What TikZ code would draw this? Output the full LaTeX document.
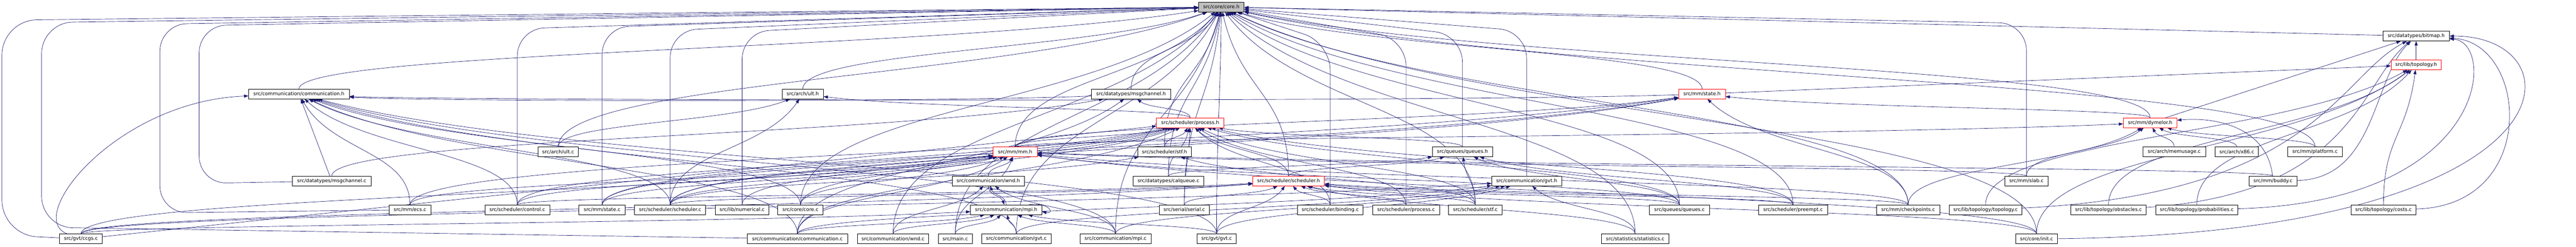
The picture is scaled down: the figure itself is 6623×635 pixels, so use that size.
\documentclass[tikz,border=0pt]{standalone}
\usepackage{fontspec}
\setmainfont{DejaVu Sans}
\usetikzlibrary{arrows.meta,calc}
\definecolor{edgeblue}{RGB}{25,25,112}
\definecolor{coregray}{RGB}{191,191,191}
\tikzset{
  fnode/.style={draw=black, fill=white, line width=1pt, minimum height=25pt, inner sep=0pt,
    font=\fontsize{12.6}{15}\selectfont, anchor=center},
  rnode/.style={fnode, draw=red},
  gnode/.style={fnode, fill=coregray},
  edge/.style={draw=edgeblue, line width=0.9pt, -{Triangle[length=11pt,width=8pt]}},
}
\newcommand\edgeC[2]{\draw[edge] let \p1=(#1), \p2=(#2) in (#1) .. controls (\x1,{0.5*(\y1+\y2)}) and ({0.7*\x2+0.3*\x1},{0.5*(\y1+\y2)}) .. (#2);}
\newcommand\edgeS[2]{\draw[edge] (#1) -- (#2);}
\newcommand\edgeLP[3]{\draw[edge,rounded corners=70pt] (#1) -- (#1 |- 0,#3) -- (#2);}
\begin{document}
\begin{tikzpicture}[x=1pt,y=-1pt]
\useasboundingbox (0,0) rectangle (6623,635);
\fill[white] (0,0) rectangle (6623,635);
% ---------------- nodes (positions) ----------------
\path
 node[gnode, minimum width=117pt] (core) at (3140,18) {src/core/core.h}
 node[fnode, minimum width=171pt] (bitmap) at (6212,93) {src/datatypes/bitmap.h}
 node[rnode, minimum width=129pt] (topo) at (6212,167) {src/lib/topology.h}
 node[fnode, minimum width=259pt] (commh) at (768.5,242) {src/communication/communication.h}
 node[fnode, minimum width=106pt] (ulth) at (2064,242) {src/arch/ult.h}
 node[fnode, minimum width=203pt] (msgh) at (2908,242) {src/datatypes/msgchannel.h}
 node[rnode, minimum width=120pt] (stateh) at (4376,242) {src/mm/state.h}
 node[rnode, minimum width=173pt] (proch) at (3060,316) {src/scheduler/process.h}
 node[rnode, minimum width=138pt] (dymh) at (5528,316) {src/mm/dymelor.h}
 node[fnode, minimum width=104.5pt] (ultc) at (1435,391) {src/arch/ult.c}
 node[fnode, minimum width=138.6pt] (stfh) at (2994,391) {src/scheduler/stf.h}
 node[rnode, minimum width=113.6pt] (mmh) at (2610,391) {src/mm/mm.h}
 node[fnode, minimum width=154.6pt] (queuesh) at (3760,391) {src/queues/queues.h}
 node[fnode, minimum width=162pt] (memc) at (5590,391) {src/arch/memusage.c}
 node[fnode, minimum width=111pt] (x86) at (5751,391) {src/arch/x86.c}
 node[fnode, minimum width=140pt] (platc) at (5952,391) {src/mm/platform.c}
 node[fnode, minimum width=203pt] (msgc) at (853,466) {src/datatypes/msgchannel.c}
 node[fnode, minimum width=186pt] (wndh) at (2541,466) {src/communication/wnd.h}
 node[fnode, minimum width=182.5pt] (calq) at (3004,466) {src/datatypes/calqueue.c}
 node[rnode, minimum width=184pt] (schedh) at (3313,466) {src/scheduler/scheduler.h}
 node[fnode, minimum width=180pt] (gvth) at (3925,466) {src/communication/gvt.h}
 node[fnode, minimum width=112pt] (slab) at (5210,466) {src/mm/slab.c}
 node[fnode, minimum width=123pt] (buddy) at (5844,466) {src/mm/buddy.c}
 node[fnode, minimum width=108pt] (ecs) at (1054,540) {src/mm/ecs.c}
 node[fnode, minimum width=166.6pt] (control) at (1330,540) {src/scheduler/control.c}
 node[fnode, minimum width=119pt] (statec) at (1548,540) {src/mm/state.c}
 node[fnode, minimum width=183pt] (schedc) at (1723,540) {src/scheduler/scheduler.c}
 node[fnode, minimum width=137pt] (numer) at (1908,540) {src/lib/numerical.c}
 node[fnode, minimum width=117pt] (corec) at (2058,540) {src/core/core.c}
 node[fnode, minimum width=183.6pt] (mpih) at (2587,540) {src/communication/mpi.h}
 node[fnode, minimum width=128pt] (serial) at (3045,540) {src/serial/serial.c}
 node[fnode, minimum width=168pt] (binding) at (3420,540) {src/scheduler/binding.c}
 node[fnode, minimum width=172pt] (procc) at (3615,540) {src/scheduler/process.c}
 node[fnode, minimum width=138pt] (stfc) at (3793,540) {src/scheduler/stf.c}
 node[fnode, minimum width=155pt] (queuesc) at (4318,540) {src/queues/queues.c}
 node[fnode, minimum width=177pt] (preempt) at (4610,540) {src/scheduler/preempt.c}
 node[fnode, minimum width=163pt] (ckpt) at (4906,540) {src/mm/checkpoints.c}
 node[fnode, minimum width=186pt] (topoc) at (5105,540) {src/lib/topology/topology.c}
 node[fnode, minimum width=194pt] (obst) at (5421,540) {src/lib/topology/obstacles.c}
 node[fnode, minimum width=210.5pt] (prob) at (5648,540) {src/lib/topology/probabilities.c}
 node[fnode, minimum width=167pt] (costs) at (6128,540) {src/lib/topology/costs.c}
 node[fnode, minimum width=109.5pt] (ccgs) at (208,615) {src/gvt/ccgs.c}
 node[fnode, minimum width=259pt] (commc) at (2050,615) {src/communication/communication.c}
 node[fnode, minimum width=184pt] (wndc) at (2296,615) {src/communication/wnd.c}
 node[fnode, minimum width=88pt] (mainc) at (2456,615) {src/main.c}
 node[fnode, minimum width=179.5pt] (gvtcc) at (2613,615) {src/communication/gvt.c}
 node[fnode, minimum width=183pt] (mpic) at (2868,615) {src/communication/mpi.c}
 node[fnode, minimum width=100pt] (gvtc) at (3128,615) {src/gvt/gvt.c}
 node[fnode, minimum width=174.6pt] (stats) at (4204,615) {src/statistics/statistics.c}
 node[fnode, minimum width=106.5pt] (initc) at (5236,615) {src/core/init.c};
% ---------------- edges ----------------
\begin{scope}[on background layer/.style={}]
% to core.h
\draw[edge,rounded corners=90pt] (ccgs) -- (5,605) -- (5,52) -- (core);
\draw[edge,rounded corners=80pt] (commc) -- (107,585) -- (107,58) -- (core);
\draw[edge,rounded corners=70pt] (msgc) -- (512,472) -- (512,66) -- (core);
\draw[edge,rounded corners=70pt] (ecs) -- (411,548) -- (411,62) -- (core);
\edgeLP{control}{core}{74}
\edgeLP{statec}{core}{70}
\edgeLP{schedc}{core}{78}
\edgeLP{numer}{core}{82}
\edgeC{corec}{core}
\edgeC{commh}{core}
\edgeC{ulth}{core}
\edgeC{msgh}{core}
\edgeC{ultc}{core}
\edgeC{stfh}{core}
\edgeC{mmh}{core}
\edgeC{calq}{core}
\edgeC{schedh}{core}
\edgeC{serial}{core}
\edgeC{mpic}{core}
\edgeC{gvtc}{core}
\edgeC{mainc}{core}
\edgeC{wndc}{core}
\edgeC{gvtcc}{core}
\edgeLP{binding}{core}{110}
\edgeLP{procc}{core}{100}
\edgeLP{queuesh}{core}{90}
\edgeLP{gvth}{core}{80}
\edgeC{stfc}{core}
\edgeC{stateh}{core}
\edgeC{queuesc}{core}
\edgeC{stats}{core}
\edgeC{preempt}{core}
\edgeC{ckpt}{core}
\edgeLP{slab}{core}{60}
\edgeC{initc}{core}
\edgeC{dymh}{core}
\edgeC{platc}{core}
\edgeS{bitmap}{core}
% to communication.h
\draw[edge] (ccgs) .. controls (60,560) and (300,260) .. (commh);
\edgeS{msgc}{commh}
\edgeC{ecs}{commh}
\edgeC{control}{commh}
\edgeC{schedc}{commh}
\edgeC{corec}{commh}
\edgeC{commc}{commh}
\edgeC{mpic}{commh}
\edgeC{gvtc}{commh}
\edgeC{gvtcc}{commh}
\draw[edge] (msgh) .. controls (2500,262) and (1100,262) .. (commh);
\draw[edge] (stateh) .. controls (3700,264) and (1100,258) .. (commh);
% to ult.h
\edgeC{proch}{ulth}
\edgeC{ultc}{ulth}
\edgeC{schedc}{ulth}
% to msgchannel.h
\edgeC{proch}{msgh}
\edgeC{msgc}{msgh}
\edgeC{commc}{msgh}
% to state.h
\edgeC{mmh}{stateh}
\edgeC{dymh}{stateh}
\edgeC{ckpt}{stateh}
\edgeC{statec}{stateh}
\edgeC{schedc}{stateh}
\edgeC{ecs}{stateh}
% to process.h
\edgeC{stfh}{proch}
\edgeC{schedh}{proch}
\edgeC{queuesh}{proch}
\edgeC{mmh}{proch}
\edgeC{calq}{proch}
\edgeC{control}{proch}
\edgeC{statec}{proch}
\edgeC{schedc}{proch}
\edgeC{numer}{proch}
\edgeC{corec}{proch}
\edgeC{serial}{proch}
\edgeC{binding}{proch}
\edgeC{procc}{proch}
\edgeC{stfc}{proch}
\edgeC{queuesc}{proch}
\edgeC{preempt}{proch}
\edgeS{ccgs}{proch}
\edgeC{commc}{proch}
% to dymelor.h
\edgeC{memc}{dymh}
\edgeC{x86}{dymh}
\edgeC{platc}{dymh}
\draw[edge] (buddy) .. controls (5830,330) and (5700,300) .. (dymh);
\edgeC{slab}{dymh}
\edgeC{mmh}{dymh}
\edgeC{ckpt}{dymh}
% to topology.h
\edgeS{stateh}{topo}
\edgeC{topoc}{topo}
\edgeC{obst}{topo}
\edgeC{prob}{topo}
\edgeC{costs}{topo}
\edgeC{initc}{topo}
% to bitmap.h
\edgeS{topo}{bitmap}
\edgeS{dymh}{bitmap}
\draw[edge] (buddy) .. controls (6110,460) and (6100,200) .. (bitmap);
\draw[edge] (topoc) .. controls (5950,500) and (6010,200) .. (bitmap);
\draw[edge] (obst) .. controls (6050,500) and (6070,210) .. (bitmap);
\draw[edge] (prob) .. controls (6400,520) and (6420,110) .. (bitmap);
\draw[edge] (costs) .. controls (6530,530) and (6500,110) .. (bitmap);
\draw[edge] (initc) .. controls (6640,600) and (6640,92) .. (bitmap);
% to stf.h
\edgeC{stfc}{stfh}
\edgeC{schedc}{stfh}
% to mm.h
\edgeC{wndh}{mmh}
\edgeC{mainc}{mmh}
\edgeC{ecs}{mmh}
\edgeC{control}{mmh}
\edgeC{statec}{mmh}
\edgeC{schedc}{mmh}
\edgeC{corec}{mmh}
\edgeC{commc}{mmh}
\edgeC{ccgs}{mmh}
\edgeC{queuesc}{mmh}
\edgeC{ckpt}{mmh}
\edgeC{slab}{mmh}
\edgeC{buddy}{mmh}
\edgeC{initc}{mmh}
% to queues.h
\edgeC{schedh}{queuesh}
\edgeC{calq}{queuesh}
\edgeC{stfc}{queuesh}
\edgeC{queuesc}{queuesh}
\edgeC{preempt}{queuesh}
% to wnd.h
\edgeC{wndc}{wndh}
\edgeC{mpih}{wndh}
\edgeC{mpic}{wndh}
% to mpi.h
\edgeC{wndh}{mpih}
\draw[edge] (mpih.north east) ++(-34,0) .. controls (2700,520) and (2712,552) .. ([yshift=-5pt]mpih.east);
\edgeC{commc}{mpih}
\edgeC{wndc}{mpih}
\edgeC{mainc}{mpih}
\edgeC{gvtcc}{mpih}
\edgeC{mpic}{mpih}
\edgeC{gvtc}{mpih}
\edgeC{ccgs}{mpih}
% to scheduler.h
\edgeC{control}{schedh}
\edgeC{schedc}{schedh}
\edgeC{serial}{schedh}
\edgeC{gvtc}{schedh}
\edgeC{binding}{schedh}
\edgeC{procc}{schedh}
\edgeC{stfc}{schedh}
\edgeC{queuesc}{schedh}
\edgeC{preempt}{schedh}
\edgeC{stats}{schedh}
\edgeC{initc}{schedh}
\edgeC{ccgs}{schedh}
\edgeC{ckpt}{schedh}
% to gvt.h
\edgeC{gvtcc}{gvth}
\edgeC{mpic}{gvth}
\edgeC{gvtc}{gvth}
\edgeC{stats}{gvth}
\edgeC{ccgs}{gvth}
\edgeC{commc}{gvth}
\end{scope}
% ---------------- nodes redrawn on top ----------------
\path
 node[gnode, minimum width=117pt] at (core) {src/core/core.h}
 node[fnode, minimum width=171pt] at (bitmap) {src/datatypes/bitmap.h}
 node[rnode, minimum width=129pt] at (topo) {src/lib/topology.h}
 node[fnode, minimum width=259pt] at (commh) {src/communication/communication.h}
 node[fnode, minimum width=106pt] at (ulth) {src/arch/ult.h}
 node[fnode, minimum width=203pt] at (msgh) {src/datatypes/msgchannel.h}
 node[rnode, minimum width=120pt] at (stateh) {src/mm/state.h}
 node[rnode, minimum width=173pt] at (proch) {src/scheduler/process.h}
 node[rnode, minimum width=138pt] at (dymh) {src/mm/dymelor.h}
 node[fnode, minimum width=104.5pt] at (ultc) {src/arch/ult.c}
 node[fnode, minimum width=138.6pt] at (stfh) {src/scheduler/stf.h}
 node[rnode, minimum width=113.6pt] at (mmh) {src/mm/mm.h}
 node[fnode, minimum width=154.6pt] at (queuesh) {src/queues/queues.h}
 node[fnode, minimum width=162pt] at (memc) {src/arch/memusage.c}
 node[fnode, minimum width=111pt] at (x86) {src/arch/x86.c}
 node[fnode, minimum width=140pt] at (platc) {src/mm/platform.c}
 node[fnode, minimum width=203pt] at (msgc) {src/datatypes/msgchannel.c}
 node[fnode, minimum width=186pt] at (wndh) {src/communication/wnd.h}
 node[fnode, minimum width=182.5pt] at (calq) {src/datatypes/calqueue.c}
 node[rnode, minimum width=184pt] at (schedh) {src/scheduler/scheduler.h}
 node[fnode, minimum width=180pt] at (gvth) {src/communication/gvt.h}
 node[fnode, minimum width=112pt] at (slab) {src/mm/slab.c}
 node[fnode, minimum width=123pt] at (buddy) {src/mm/buddy.c}
 node[fnode, minimum width=108pt] at (ecs) {src/mm/ecs.c}
 node[fnode, minimum width=166.6pt] at (control) {src/scheduler/control.c}
 node[fnode, minimum width=119pt] at (statec) {src/mm/state.c}
 node[fnode, minimum width=183pt] at (schedc) {src/scheduler/scheduler.c}
 node[fnode, minimum width=137pt] at (numer) {src/lib/numerical.c}
 node[fnode, minimum width=117pt] at (corec) {src/core/core.c}
 node[fnode, minimum width=183.6pt] at (mpih) {src/communication/mpi.h}
 node[fnode, minimum width=128pt] at (serial) {src/serial/serial.c}
 node[fnode, minimum width=168pt] at (binding) {src/scheduler/binding.c}
 node[fnode, minimum width=172pt] at (procc) {src/scheduler/process.c}
 node[fnode, minimum width=138pt] at (stfc) {src/scheduler/stf.c}
 node[fnode, minimum width=155pt] at (queuesc) {src/queues/queues.c}
 node[fnode, minimum width=177pt] at (preempt) {src/scheduler/preempt.c}
 node[fnode, minimum width=163pt] at (ckpt) {src/mm/checkpoints.c}
 node[fnode, minimum width=186pt] at (topoc) {src/lib/topology/topology.c}
 node[fnode, minimum width=194pt] at (obst) {src/lib/topology/obstacles.c}
 node[fnode, minimum width=210.5pt] at (prob) {src/lib/topology/probabilities.c}
 node[fnode, minimum width=167pt] at (costs) {src/lib/topology/costs.c}
 node[fnode, minimum width=109.5pt] at (ccgs) {src/gvt/ccgs.c}
 node[fnode, minimum width=259pt] at (commc) {src/communication/communication.c}
 node[fnode, minimum width=184pt] at (wndc) {src/communication/wnd.c}
 node[fnode, minimum width=88pt] at (mainc) {src/main.c}
 node[fnode, minimum width=179.5pt] at (gvtcc) {src/communication/gvt.c}
 node[fnode, minimum width=183pt] at (mpic) {src/communication/mpi.c}
 node[fnode, minimum width=100pt] at (gvtc) {src/gvt/gvt.c}
 node[fnode, minimum width=174.6pt] at (stats) {src/statistics/statistics.c}
 node[fnode, minimum width=106.5pt] at (initc) {src/core/init.c};
\end{tikzpicture}
\end{document}
